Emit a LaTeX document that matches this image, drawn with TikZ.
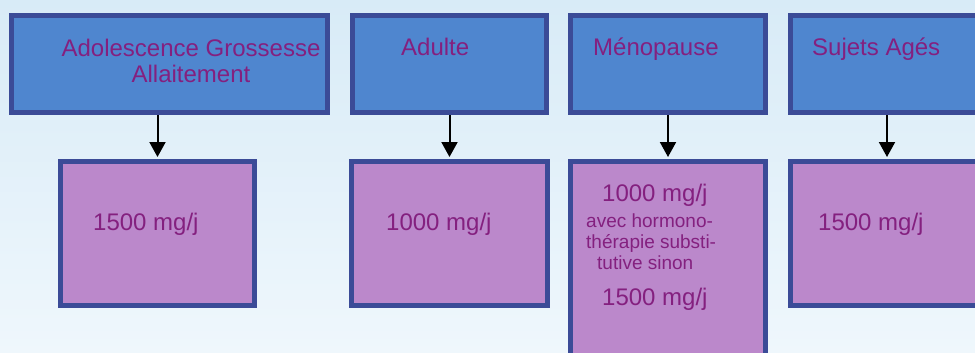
\documentclass[tikz,border=0pt]{standalone}
\usepackage{fontspec}
\setmainfont{Liberation Sans}
\usetikzlibrary{arrows.meta}
\usetikzlibrary{calc, positioning}

\definecolor{bgtop}{HTML}{D8EBF7}
\definecolor{bgbottom}{HTML}{EFF7FC}
\definecolor{agefill}{HTML}{4F86CF}
\definecolor{boxline}{HTML}{3B4B97}
\definecolor{dosefill}{HTML}{BB88CB}
\definecolor{labelpurple}{HTML}{84207F}

\tikzset{
  agebox/.style={draw=boxline, fill=agefill, line width=5pt, minimum height=97pt, inner sep=0pt},
  dosebox/.style={draw=boxline, fill=dosefill, line width=5pt, minimum height=144pt, inner sep=0pt},
  bigtext/.style={text=labelpurple, font=\fontsize{24}{27}\selectfont, inner sep=0pt, align=center},
  smalltext/.style={text=labelpurple, font=\fontsize{19}{21}\selectfont, inner sep=0pt, align=left},
  down arrow/.style={line width=2pt, -{Triangle[length=15pt, width=16pt]}, shorten >=2pt}
}

\begin{document}
\begin{tikzpicture}[x=1pt, y=-1pt]

  \useasboundingbox (0,0) rectangle (975,353);
  \clip (0,0) rectangle (975,353);

  % background
  \shade[top color=bgtop, bottom color=bgbottom] (0,0) rectangle (975,353);

  % age groups
  \node (age-teen)   [agebox, minimum width=316pt] at (169.5,64) {};
  \node (age-adult)  [agebox, minimum width=194pt] at (449.5,64) {};
  \node (age-meno)   [agebox, minimum width=195pt] at (668,64) {};
  \node (age-senior) [agebox, minimum width=193pt] at (887,64) {};

  % multi-line text: base is the last line
  \node (txt-teen)   [bigtext, anchor=base] at (191,83) {Adolescence Grossesse\\Allaitement};
  \node (txt-adult)  [bigtext, anchor=base west] at (401,56) {Adulte};
  \node (txt-meno)   [bigtext, anchor=base west] at (593,56) {Ménopause};
  \node (txt-senior) [bigtext, anchor=base west] at (812,56) {Sujets Agés};

  % daily intake
  \node (dose-teen)   [dosebox, minimum width=194pt] at (157.5,233.5) {};
  \node (dose-adult)  [dosebox, minimum width=196pt] at (449.5,233.5) {};
  \node (dose-meno)   [dosebox, minimum width=195pt, minimum height=206pt] at (668,264.5) {};
  \node (dose-senior) [dosebox, minimum width=193pt] at (887,233.5) {};

  \node (val-teen)   [bigtext, anchor=base west] at (93,230) {1500 mg/j};
  \node (val-adult)  [bigtext, anchor=base west] at (386,230) {1000 mg/j};
  \node (val-senior) [bigtext, anchor=base west] at (818,230) {1500 mg/j};

  \node (val-meno-with) [bigtext, anchor=base west] at (602,201) {1000 mg/j};
  \node (val-meno-note) [smalltext, anchor=base west] at (586,269)
  {avec hormono-\\thérapie substi-\\\hspace*{11pt}tutive sinon};
  \node (val-meno-without) [bigtext, anchor=base west] at (602,305) {1500 mg/j};

  % arrows
  \draw[down arrow] (age-teen.south -| dose-teen.north) to (dose-teen.north);
  \draw[down arrow] (age-adult.south -| dose-adult.north) to (dose-adult.north);
  \draw[down arrow] (age-meno.south -| dose-meno.north) to (dose-meno.north);
  \draw[down arrow] (age-senior.south -| dose-senior.north) to (dose-senior.north);

\end{tikzpicture}
\end{document}
